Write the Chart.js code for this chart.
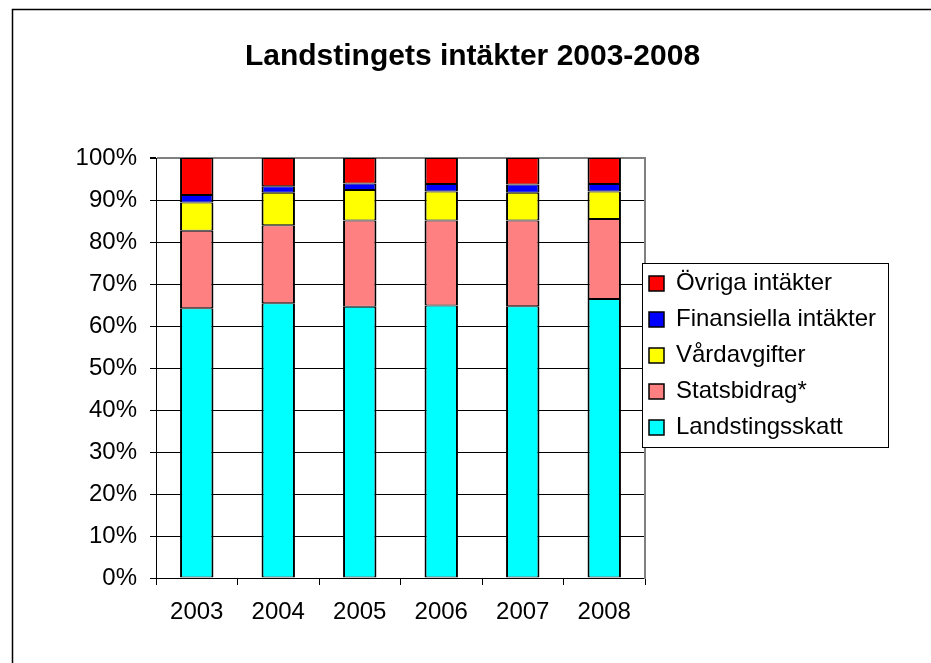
<!DOCTYPE html>
<html>
<head>
<meta charset="utf-8">
<title>Landstingets intäkter 2003-2008</title>
<script src="https://cdn.jsdelivr.net/npm/chart.js@4.4.1/dist/chart.umd.min.js"></script>
<style>
  html, body { margin: 0; padding: 0; background: #fff; }
  canvas { display: block; }
</style>
</head>
<body>
<canvas id="myChart" width="931" height="663"></canvas>
<script>
// share of income per year, in percent
var years = ['2003', '2004', '2005', '2006', '2007', '2008'];
var landstingsskatt = [64.2, 65.4, 64.6, 64.9, 64.7, 66.4];
var statsbidrag     = [18.5, 18.6, 20.5, 20.2, 20.4, 19.1];
var vardavgifter    = [6.7, 7.7, 7.3, 6.9, 6.6, 6.5];
var finansiella     = [1.8, 1.6, 1.5, 1.8, 2.0, 1.8];
var ovriga          = [8.8, 6.7, 6.1, 6.2, 6.3, 6.2];
var yMax = 100;
var yStep = 10;

Chart.defaults.font.family = "'Liberation Sans', Arial, sans-serif";
Chart.defaults.color = '#000';

function series(label, data, color) {
  return {
    label: label,
    data: data,
    backgroundColor: color,
    borderColor: '#000',
    borderWidth: { top: 1, bottom: 1, left: 2, right: 2 },
    borderSkipped: false,
    barPercentage: 0.41,
    categoryPercentage: 1
  };
}

// outer frame, and the boxed legend placed like in the original
var framePlugin = {
  id: 'frame',
  beforeDraw: function(chart) {
    var c = chart.ctx;
    c.save();
    c.fillStyle = '#fff';
    c.fillRect(0, 0, chart.width, chart.height);
    c.strokeStyle = '#000';
    c.lineWidth = 1.5;
    c.strokeRect(12.5, 9.5, chart.width + 20, chart.height + 20);
    c.restore();
  },
  afterLayout: function(chart) {
    var lg = chart.legend;
    lg.left = 637; lg.top = 253; lg.right = 888; lg.bottom = 458;
    lg.width = lg.right - lg.left;
    lg.height = lg.bottom - lg.top;
  },
  afterDraw: function(chart) {
    var c = chart.ctx;
    c.save();
    c.fillStyle = '#fff';
    c.fillRect(642, 263, 246, 184);
    c.strokeStyle = '#000';
    c.lineWidth = 1;
    c.strokeRect(642.5, 263.5, 246, 184);
    c.restore();
    chart.legend.draw();
  }
};

const ctx = document.getElementById('myChart');

var chart = new Chart(ctx, {
  type: 'bar',
  data: {
    labels: years,
    datasets: [
      series('Landstingsskatt', landstingsskatt, '#00FFFF'),
      series('Statsbidrag*', statsbidrag, '#FF8080'),
      series('Vårdavgifter', vardavgifter, '#FFFF00'),
      series('Finansiella intäkter', finansiella, '#0000FF'),
      series('Övriga intäkter', ovriga, '#FF0000')
    ]
  },
  options: {
    responsive: false,
    animation: false,
    layout: { padding: { left: 14, top: 0, right: 0, bottom: 0 } },
    plugins: {
      title: {
        display: true,
        text: 'Landstingets intäkter 2003-2008',
        color: '#000',
        font: { size: 30, weight: 'bold' },
        padding: { top: 39, bottom: 83 }
      },
      legend: {
        position: 'chartArea',
        reverse: true,
        labels: {
          boxWidth: 15,
          boxHeight: 15,
          padding: 12,
          color: '#000',
          font: { size: 24 }
        }
      },
      tooltip: { enabled: false }
    },
    scales: {
      x: {
        stacked: true,
        grid: { offset: true, drawOnChartArea: false, drawTicks: true, tickLength: 7, color: '#000' },
        border: { color: '#000', width: 1 },
        ticks: { color: '#000', font: { size: 24 }, padding: 13 },
        afterFit: function(s) { s.height = 85; }
      },
      y: {
        stacked: true,
        min: 0,
        max: yMax,
        ticks: {
          stepSize: yStep,
          color: '#000',
          font: { size: 24 },
          padding: 13,
          callback: function(v) { return v + '%'; }
        },
        grid: {
          color: function(c) { return c.tick && c.tick.value === yMax ? '#808080' : '#000'; },
          lineWidth: function(c) { return c.tick && c.tick.value === yMax ? 2 : 1; },
          tickColor: '#000',
          tickLength: 6
        },
        border: { color: '#000', width: 1 },
        afterFit: function(s) { s.width = 142; }
      },
      y2: {
        position: 'right',
        min: 0,
        max: yMax,
        grid: { drawOnChartArea: false, drawTicks: false },
        ticks: { display: false },
        border: { color: '#808080', width: 2 },
        afterFit: function(s) { s.width = 286; }
      }
    }
  },
  plugins: [framePlugin]
});
</script>
</body>
</html>
